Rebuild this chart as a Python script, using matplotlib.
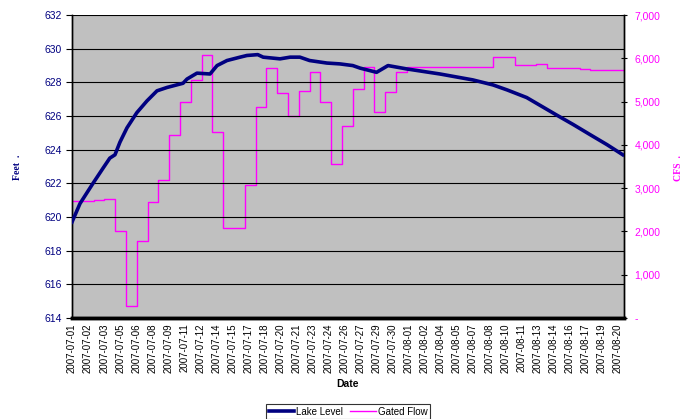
import numpy as np
import matplotlib
matplotlib.use('Agg')
import matplotlib.pyplot as plt
from matplotlib.ticker import FuncFormatter

plt.rcParams['font.family'] = ['Liberation Sans', 'DejaVu Sans']

# lake level (days since 2007-07-01, feet)
lake_day = [0, 0.74, 1.94, 2.87, 3.5, 3.98, 4.44, 5.09, 6.0, 6.94, 7.87, 8.8,
            10.28, 10.65, 11.57, 12.78, 13.43, 14.35, 15.56, 16.2, 17.2, 17.7,
            19.26, 20.2, 21.1, 22.0, 23.6, 24.8, 26.0, 26.67, 28.2, 29.26, 31.0,
            34.07, 37.1, 38.98, 40.3, 42.1, 43.3, 44.9, 46.4, 47.96, 49.54, 51.0]
lake_ft = [619.7, 620.8, 622.0, 622.9, 623.5, 623.7, 624.45, 625.3, 626.2, 626.9,
           627.5, 627.7, 627.95, 628.2, 628.55, 628.5, 629.0, 629.3, 629.5, 629.6,
           629.65, 629.5, 629.4, 629.5, 629.5, 629.3, 629.15, 629.1, 629.0, 628.85,
           628.6, 629.0, 628.8, 628.5, 628.15, 627.85, 627.55, 627.1, 626.65,
           626.05, 625.5, 624.9, 624.3, 623.7]

# gated flow, daily values (cfs)
flow_cfs = [2700, 2700, 2720, 2740, 2000, 280, 1780, 2680, 3190, 4230, 4990, 5500,
            6070, 4300, 2080, 2070, 3070, 4880, 5770, 5200, 4670, 5240, 5680, 4990,
            3560, 4430, 5290, 5800, 4760, 5220, 5680, 5800, 5800, 5800, 5800, 5800,
            5800, 5800, 5810, 6030, 6030, 5840, 5840, 5860, 5770, 5770, 5770, 5760,
            5730, 5730, 5720]

date_labels = ['2007-07-01', '2007-07-02', '2007-07-03', '2007-07-05', '2007-07-06',
               '2007-07-08', '2007-07-09', '2007-07-11', '2007-07-12', '2007-07-14',
               '2007-07-15', '2007-07-17', '2007-07-18', '2007-07-20', '2007-07-21',
               '2007-07-23', '2007-07-24', '2007-07-26', '2007-07-27', '2007-07-29',
               '2007-07-30', '2007-08-01', '2007-08-02', '2007-08-04', '2007-08-05',
               '2007-08-07', '2007-08-08', '2007-08-10', '2007-08-11', '2007-08-13',
               '2007-08-14', '2007-08-16', '2007-08-17', '2007-08-19', '2007-08-20']

xend = 51.1
flow_day = list(range(len(flow_cfs))) + [xend]
flow_plot = flow_cfs + [flow_cfs[-1]]

fig = plt.figure(figsize=(6.89, 4.19), dpi=100)
ax = fig.add_axes([0.1045, 0.241, 0.801, 0.723])
ax2 = ax.twinx()

ax.plot(lake_day, lake_ft, color='#000080', lw=2.6, zorder=3)
ax2.plot(flow_day, flow_plot, color='#FF00FF', lw=1.0, drawstyle='steps-post')

# lake level on top, gray background on the twin
ax.set_zorder(ax2.get_zorder() + 1)
ax.patch.set_visible(False)
ax2.patch.set_visible(True)
ax2.patch.set_facecolor('#C0C0C0')

ax.set_xlim(0, xend)
ax.set_ylim(614, 632)
ax.set_yticks(np.arange(614, 633, 2))
ax.grid(axis='y', color='black', lw=0.8)
ax.set_axisbelow(True)
ax2.set_ylim(0, 7000)
ax2.set_yticks(np.arange(0, 7001, 1000))
ax2.yaxis.set_major_formatter(FuncFormatter(lambda v, p: '-' if v == 0 else f'{int(v):,}'))

ax.set_xticks(np.linspace(0, 50.5, len(date_labels)))
ax.set_xticklabels(date_labels, rotation=90, fontsize=7)
ax.tick_params(axis='x', length=0, pad=4)
ax.tick_params(axis='y', labelsize=7.5, labelcolor='#000080', length=4, direction='out')
ax2.tick_params(axis='y', labelsize=7.5, labelcolor='#FF00FF', length=5, direction='inout', pad=5)

for a in (ax, ax2):
    a.spines['top'].set_visible(False)
    a.spines['left'].set_linewidth(1)
    a.spines['right'].set_linewidth(1)
    a.spines['bottom'].set_linewidth(2.5)

ax.set_xlabel('Date', fontsize=7.5, fontweight='bold', labelpad=4)
fig.text(0.026, 0.6, 'Feet  .', rotation=90, fontsize=7, fontweight='bold',
         color='#000080', family='Liberation Serif', ha='center', va='center')
fig.text(0.985, 0.6, 'CFS  .', rotation=90, fontsize=7, fontweight='bold',
         color='#FF00FF', family='Liberation Serif', ha='center', va='center')

h1, = ax.plot([], [], color='#000080', lw=2.6, label='Lake Level')
h2, = ax.plot([], [], color='#FF00FF', lw=1.0, label='Gated Flow')
leg = fig.legend(handles=[h1, h2], loc='lower center', bbox_to_anchor=(0.505, -0.005),
                 ncol=2, fontsize=7, frameon=True, fancybox=False, handlelength=2.6,
                 handletextpad=0.2, columnspacing=0.8, borderpad=0.25, borderaxespad=0.2)
leg.get_frame().set_edgecolor('black')
leg.get_frame().set_linewidth(0.8)

fig.savefig('out.png', dpi=100)
